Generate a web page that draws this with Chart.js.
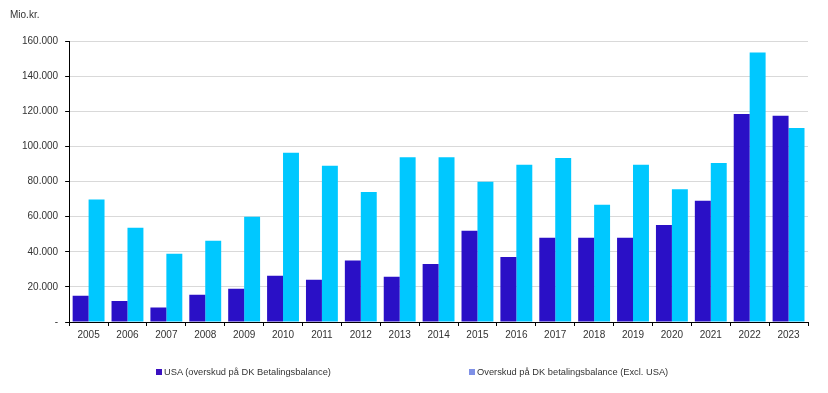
<!DOCTYPE html>
<html>
<head>
<meta charset="utf-8">
<script src="https://cdn.jsdelivr.net/npm/chart.js@4/dist/chart.umd.min.js"></script>
<style>
	body { margin: 0; background: #fff; font-family: "Liberation Sans", Arial, sans-serif; }
	#wrap { position: relative; width: 828px; height: 393px; }
	#unit { position: absolute; left: 10px; top: 9px; font-size: 10px; color: #333; }
	.leg { position: absolute; top: 367px; font-size: 9.3px; color: #333; white-space: nowrap; }
	.leg span { display: inline-block; width: 6px; height: 6px; margin-right: 2px; vertical-align: 0px; }
</style>
</head>
<body>
<div id="wrap">
	<canvas id="chart" width="828" height="393"></canvas>
	<div id="unit">Mio.kr.</div>
	<div class="leg" style="left:156px"><span style="background:#3a10c0"></span>USA (overskud på DK Betalingsbalance)</div>
	<div class="leg" style="left:469px"><span style="background:#7f90e6"></span>Overskud på DK betalingsbalance (Excl. USA)</div>
</div>
<script>
const years = ['2005', '2006', '2007', '2008', '2009', '2010', '2011', '2012', '2013', '2014',
	'2015', '2016', '2017', '2018', '2019', '2020', '2021', '2022', '2023'];
const usaValues = [15000, 12000, 8200, 15500, 19000, 26300, 24000, 35000, 25700, 33000,
	52000, 37000, 48000, 48000, 48000, 55300, 69000, 118500, 117400];
const dkValues = [69700, 53700, 38800, 46300, 59900, 96300, 89000, 74000, 93800, 93800,
	79800, 89600, 93400, 66800, 89500, 75600, 90600, 153500, 110500];
const seriesNames = ['USA (overskud på DK Betalingsbalance)', 'Overskud på DK betalingsbalance (Excl. USA)'];

function fmt(v) {
	if (v === 0) return '-';
	return String(v).replace(/\B(?=(\d{3})+(?!\d))/g, '.');
}

const font = { family: '"Liberation Sans", Arial, sans-serif', size: 10 };

new Chart(document.getElementById('chart'), {
	type: 'bar',
	data: {
		labels: years,
		datasets: [
			{ label: seriesNames[0], data: usaValues, backgroundColor: '#2a10c6' },
			{ label: seriesNames[1], data: dkValues, backgroundColor: '#00c8ff' }
		]
	},
	options: {
		responsive: false,
		animation: false,
		layout: { padding: { left: 15, right: 20, top: 41, bottom: 49 } },
		plugins: { legend: { display: false }, tooltip: { enabled: false } },
		datasets: { bar: { categoryPercentage: 0.82, barPercentage: 1.0 } },
		scales: {
			x: {
				grid: { display: true, drawOnChartArea: false, drawTicks: true, tickLength: 4, tickColor: '#000' },
				border: { color: '#000', width: 1 },
				ticks: { color: '#333', font: font, padding: 3, maxRotation: 0 }
			},
			y: {
				min: 0,
				max: 160000,
				grid: { color: '#d9d9d9', tickColor: '#000', tickLength: 4 },
				border: { color: '#000', width: 1 },
				ticks: { stepSize: 20000, color: '#333', font: font, padding: 7, callback: fmt }
			}
		}
	}
});
</script>
</body>
</html>
